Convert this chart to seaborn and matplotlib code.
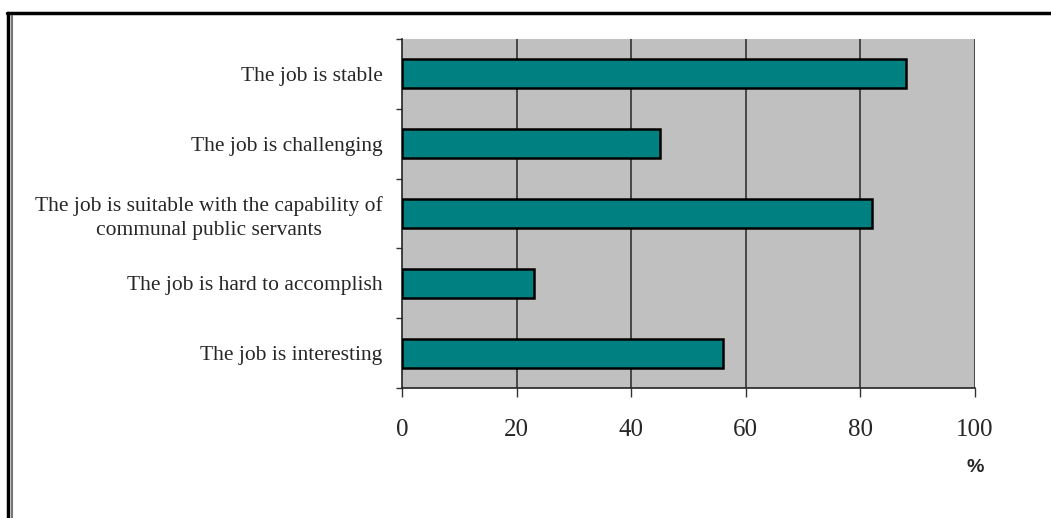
import matplotlib
matplotlib.use("Agg")
import matplotlib.pyplot as plt
import seaborn as sns
import pandas as pd
from matplotlib.lines import Line2D

# data
categories = [
    "The job is stable",
    "The job is challenging",
    "The job is suitable with the capability of\ncommunal public servants",
    "The job is hard to accomplish",
    "The job is interesting",
]
percent = [88, 45, 82, 23, 56]
xticks = [0, 20, 40, 60, 80, 100]

df = pd.DataFrame({"category": categories, "percent": percent})

sns.set_style("white")
plt.rcParams["font.family"] = ["Liberation Serif", "DejaVu Serif"]

fig = plt.figure(figsize=(10.51, 5.18), dpi=100)
ax = fig.add_axes([402 / 1051, 1 - 388 / 518, 573 / 1051, 349 / 518])
ax.set_facecolor("#C0C0C0")

sns.barplot(data=df, x="percent", y="category", color="#008080", saturation=1,
            edgecolor="black", linewidth=1.8, width=0.415, ax=ax, zorder=3)

ax.set_xlim(0, 100)
ax.set_ylim(len(categories) - 0.5, -0.5)
ax.set_xticks(xticks)
ax.set_xticklabels([str(t) for t in xticks], fontsize=18)
for t in xticks[1:]:
    ax.axvline(t, color="#333333", lw=1.2, zorder=1)

# ticks on y at category boundaries, labels at centres
ax.set_yticks([i - 0.5 for i in range(len(categories) + 1)], minor=False)
ax.set_yticklabels([])
ax.set_yticks(range(len(categories)), minor=True)
ax.set_yticklabels(categories, minor=True, fontsize=15.5, ha="right",
                   multialignment="center", linespacing=1.3)
ax.tick_params(axis="y", which="minor", length=0, pad=14)
ax.tick_params(axis="y", which="major", length=4.5, width=1, color="#333333", direction="out", left=True)
ax.tick_params(axis="x", length=6.5, width=1, color="#333333", direction="out", bottom=True, pad=16)

ax.set_xlabel("")
ax.set_ylabel("")
for side in ["top", "right"]:
    ax.spines[side].set_visible(False)
ax.spines["left"].set_color("#222222")
ax.spines["bottom"].set_color("#222222")
ax.spines["left"].set_linewidth(1.2)
ax.spines["bottom"].set_linewidth(1.2)

fig.text(975 / 1051, 1 - 468 / 518, "%", ha="center", va="center",
         fontsize=14, fontweight="bold", family=["Liberation Sans", "DejaVu Sans"])

# outer frame
fig.add_artist(Line2D([8 / 1051, 8 / 1051], [0, 1 - 13 / 518], color="black", lw=2.5, transform=fig.transFigure))
fig.add_artist(Line2D([12 / 1051, 12 / 1051], [0, 1 - 16 / 518], color="#777777", lw=1.5, transform=fig.transFigure))
fig.add_artist(Line2D([7 / 1051, 1], [1 - 13 / 518, 1 - 13 / 518], color="black", lw=2.5, transform=fig.transFigure))

fig.savefig("out.png", dpi=100)
